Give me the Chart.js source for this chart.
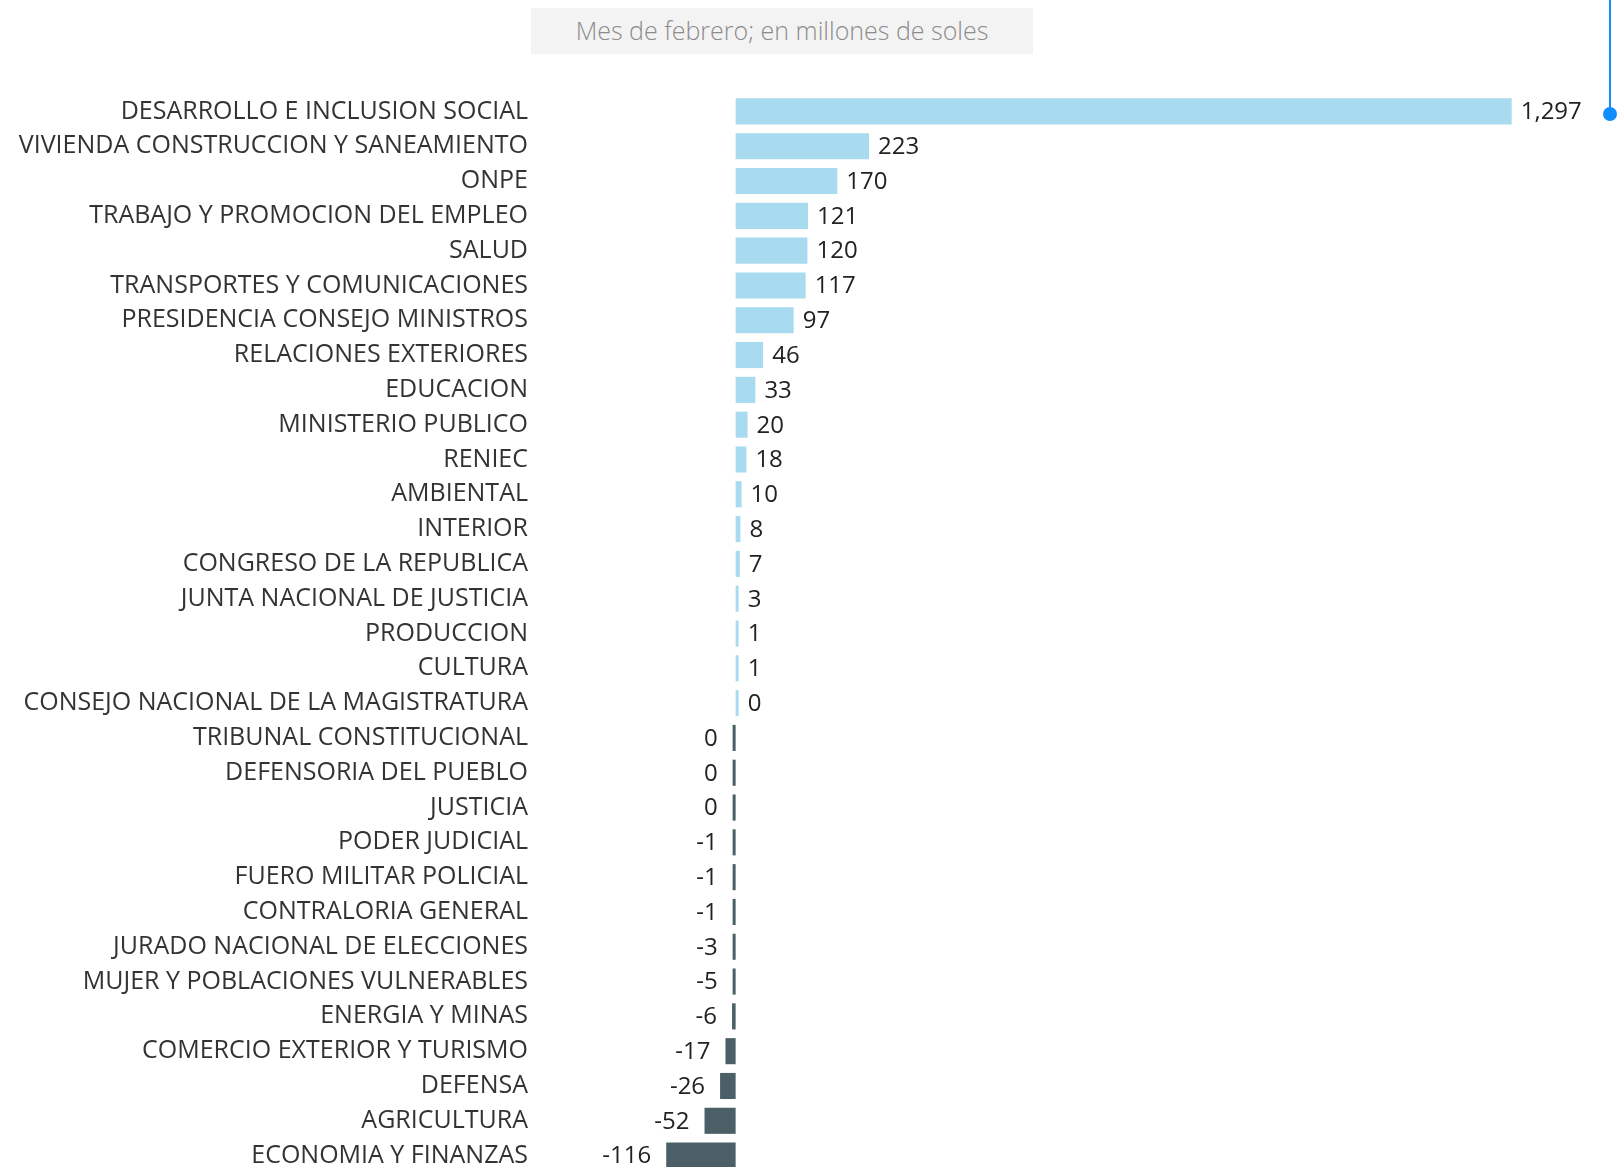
<!DOCTYPE html>
<html>
<head>
<meta charset="utf-8">
<script src="https://cdn.jsdelivr.net/npm/chart.js@4"></script>
<style>
    html, body { margin: 0; padding: 0; background: #fff; overflow: hidden; }
    #wrap { position: relative; width: 1620px; height: 1173px; }
    #subtitle {
        position: absolute; left: 531px; top: 8px; width: 502px; height: 46px;
        background: #f3f3f3; color: #8c8c8c; font: 300 25px "Open Sans", sans-serif;
        display: flex; align-items: center; justify-content: center;
        box-sizing: border-box; padding-bottom: 3px;
    }
    #marker { position: absolute; left: 1609px; top: 0; width: 2px; height: 114px; background: #118dff; }
    #dot { position: absolute; left: 1603px; top: 107px; width: 14px; height: 14px; border-radius: 50%; background: #118dff; }
</style>
</head>
<body>
<div id="wrap">
    <canvas id="chart"></canvas>
    <div id="subtitle">Mes de febrero; en millones de soles</div>
    <div id="marker"></div>
    <div id="dot"></div>
</div>
<script>
// Sectors, sorted by variation (millions of soles)
const sectors = [
    'DESARROLLO E INCLUSION SOCIAL', 'VIVIENDA CONSTRUCCION Y SANEAMIENTO', 'ONPE',
    'TRABAJO Y PROMOCION DEL EMPLEO', 'SALUD', 'TRANSPORTES Y COMUNICACIONES',
    'PRESIDENCIA CONSEJO MINISTROS', 'RELACIONES EXTERIORES', 'EDUCACION',
    'MINISTERIO PUBLICO', 'RENIEC', 'AMBIENTAL', 'INTERIOR', 'CONGRESO DE LA REPUBLICA',
    'JUNTA NACIONAL DE JUSTICIA', 'PRODUCCION', 'CULTURA', 'CONSEJO NACIONAL DE LA MAGISTRATURA',
    'TRIBUNAL CONSTITUCIONAL', 'DEFENSORIA DEL PUEBLO', 'JUSTICIA', 'PODER JUDICIAL',
    'FUERO MILITAR POLICIAL', 'CONTRALORIA GENERAL', 'JURADO NACIONAL DE ELECCIONES',
    'MUJER Y POBLACIONES VULNERABLES', 'ENERGIA Y MINAS', 'COMERCIO EXTERIOR Y TURISMO',
    'DEFENSA', 'AGRICULTURA', 'ECONOMIA Y FINANZAS'
];
const values = [
    1297, 223, 170, 121, 120, 117, 97, 46, 33, 20, 18, 10, 8, 7, 3, 1, 1, 0.2,
    -0.3, -0.3, -0.3, -1, -1, -1, -3, -5, -6, -17, -26, -52, -116
];

const POS_COLOR = '#a8dbf0';
const NEG_COLOR = '#4a6066';

function fmt(v) {
    const r = Math.round(v);
    return (r === 0 ? 0 : r).toLocaleString('en-US');
}

// Value labels next to the bar ends
const valueLabels = {
    id: 'valueLabels',
    afterDatasetsDraw(chart) {
        const c = chart.ctx;
        const meta = chart.getDatasetMeta(0);
        c.save();
        c.font = '24px "Open Sans", sans-serif';
        c.fillStyle = '#222';
        c.textBaseline = 'middle';
        meta.data.forEach((bar, i) => {
            const v = values[i];
            if (v >= 0) {
                c.textAlign = 'left';
                c.fillText(fmt(v), bar.x + 9, bar.y + 1);
            } else {
                c.textAlign = 'right';
                c.fillText(fmt(v), bar.x - 15, bar.y + 1);
            }
        });
        c.restore();
    }
};

const ctx = document.getElementById('chart').getContext('2d');
const chart = new Chart(ctx, {
    type: 'bar',
    data: {
        labels: sectors,
        datasets: [{
            data: values,
            backgroundColor: values.map(v => v >= 0 ? POS_COLOR : NEG_COLOR),
            barPercentage: 0.75,
            categoryPercentage: 1,
            minBarLength: 3
        }]
    },
    options: {
        indexAxis: 'y',
        responsive: true,
        maintainAspectRatio: false,
        animation: false,
        layout: { padding: { top: 94, bottom: 0, left: 0, right: 0 } },
        scales: {
            x: {
                min: -347,
                max: 1478,
                display: false,
                grid: { display: false }
            },
            y: {
                grid: { display: false, drawTicks: false },
                border: { display: false },
                ticks: {
                    padding: 0,
                    color: '#333',
                    font: { family: '"Open Sans", sans-serif', size: 25 }
                },
                afterFit(scale) {
                    scale.width = 528;
                    scale.paddingTop = 0;
                    scale.paddingBottom = 0;
                }
            }
        },
        plugins: {
            legend: { display: false },
            tooltip: { enabled: false }
        }
    },
    plugins: [valueLabels]
});
</script>
</body>
</html>
